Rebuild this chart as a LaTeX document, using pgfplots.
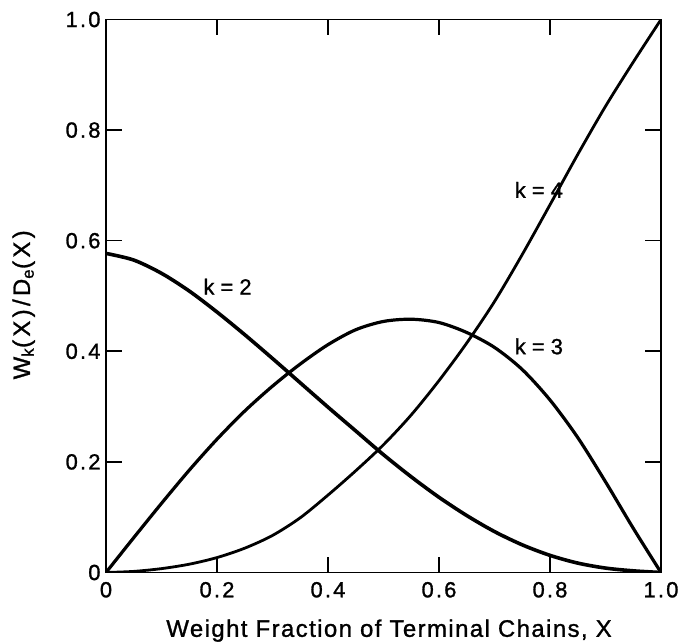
\documentclass[border=0pt]{standalone}
\usepackage{fontspec}
\setmainfont{Liberation Sans}
\usepackage{pgfplots}
\pgfplotsset{compat=1.18}
\pgfplotstableread{
x y
0.00 0.577
0.05 0.565
0.10 0.541
0.15 0.509
0.20 0.471
0.25 0.430
0.30 0.387
0.35 0.343
0.40 0.299
0.45 0.256
0.50 0.213
0.55 0.173
0.60 0.136
0.65 0.103
0.70 0.074
0.75 0.050
0.80 0.031
0.85 0.017
0.90 0.008
0.95 0.003
1.00 0.000
}\ktwo
\pgfplotstableread{
x y
0.00 0.000
0.05 0.063
0.10 0.125
0.15 0.185
0.20 0.241
0.25 0.292
0.30 0.337
0.35 0.377
0.40 0.412
0.45 0.439
0.50 0.454
0.55 0.458
0.60 0.452
0.65 0.434
0.70 0.407
0.75 0.367
0.80 0.312
0.85 0.244
0.90 0.164
0.95 0.080
1.00 0.000
}\kthree
\pgfplotstableread{
x y
0.00 0.000
0.05 0.002
0.10 0.007
0.15 0.015
0.20 0.027
0.25 0.044
0.30 0.067
0.35 0.099
0.40 0.140
0.45 0.184
0.50 0.231
0.55 0.285
0.60 0.347
0.65 0.415
0.70 0.490
0.75 0.575
0.80 0.665
0.85 0.756
0.90 0.843
0.95 0.923
1.00 1.000
}\kfour
\newcommand\lett{\addfontfeature{FakeBold=1.2}}
\begin{document}
\begin{tikzpicture}
\useasboundingbox (-106bp,-70.3bp) rectangle (575bp,572.5bp);
\begin{axis}[
  at={(0,0)}, anchor=south west,
  scale only axis, width=555bp, height=553bp,
  xmin=0, xmax=1, ymin=0, ymax=1,
  xtick={0,0.2,0.4,0.6,0.8,1},
  ytick={0,0.2,0.4,0.6,0.8,1},
  xticklabels={0,0.2,0.4,0.6,0.8,1.0},
  yticklabels={0,0.2,0.4,0.6,0.8,1.0},
  /pgf/number format/assume math mode=true,
  tick align=inside,
  major tick length=16bp,
  tick style={line width=1.6bp, black},
  axis line style={line width=1.8bp},
  ticklabel style={font=\fontsize{22}{24}\selectfont\addfontfeature{LetterSpace=10,FakeBold=1.2}},
  xticklabel style={yshift=-6bp},
  yticklabel style={xshift=-2bp},
  xlabel={Weight Fraction of Terminal Chains, X},
  xlabel style={font=\fontsize{24}{26}\selectfont\addfontfeature{LetterSpace=6,FakeBold=1.2}, at={(axis description cs:0.51,-0.1163)}, anchor=base},
  ylabel={W\textsubscript{k}(X)/D\textsubscript{e}(X)},
  ylabel style={font=\fontsize{24}{26}\selectfont\addfontfeature{LetterSpace=14,FakeBold=1.2}, at={(axis description cs:-0.137,0.484)}, anchor=base},
]
\addplot[black, line width=3.6bp, smooth] table {\ktwo};
\addplot[black, line width=3.2bp, smooth] table {\kthree};
\addplot[black, line width=2.8bp, smooth] table {\kfour};
\node[font=\fontsize{22}{24}\selectfont\lett] at (axis cs:0.219,0.517) {k = 2};
\node[font=\fontsize{22}{24}\selectfont\lett] at (axis cs:0.780,0.409) {k = 3};
\node[font=\fontsize{22}{24}\selectfont\lett] at (axis cs:0.780,0.692) {k = 4};
\end{axis}
\end{tikzpicture}
\end{document}
